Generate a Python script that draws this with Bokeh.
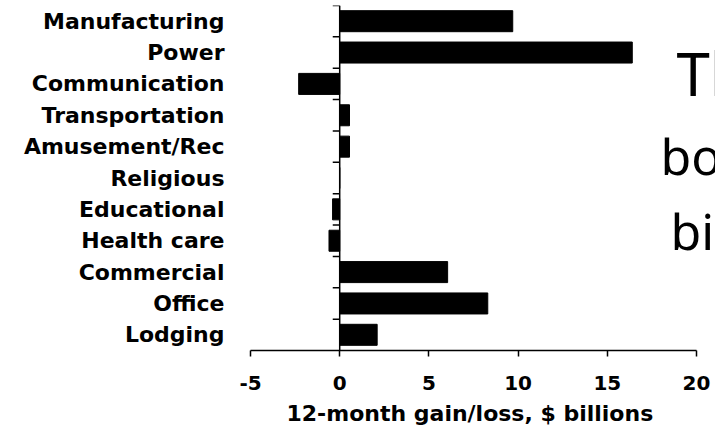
from bokeh.plotting import figure
from bokeh.models import Range1d, FixedTicker, Span, Label, Title
from bokeh.embed import file_html
from bokeh.resources import INLINE

categories = ["Manufacturing", "Power", "Communication", "Transportation",
              "Amusement/Rec", "Religious", "Educational", "Health care",
              "Commercial", "Office", "Lodging"]
values = [9.7, 16.4, -2.3, 0.55, 0.55, 0.0, -0.4, -0.6, 6.05, 8.3, 2.1]
x_ticks = [-5, 0, 5, 10, 15, 20]
x_tick_labels = ["-5", "0", "5", "10", "15", "20"]
x_title = "12-month gain/loss, $ billions"
note_words = ["Th", "bo", "bi"]

n = len(categories)
ypos = [n - 1 - i + 0.5 for i in range(n)]

FONT = "DejaVu Sans"
px_per_unit = 446 / 25.0

p = figure(width=715, height=434, output_backend="svg", toolbar_location=None,
           x_range=Range1d(-5, 20 + 19 / px_per_unit), y_range=Range1d(0, n),
           min_border_left=250, min_border_right=0, min_border_top=5,
           min_border_bottom=84, outline_line_color=None,
           background_fill_color="white", border_fill_color="white")
p.xgrid.visible = False
p.ygrid.visible = False

p.hbar(y=ypos, right=values, left=0, height=0.67, color="black")

xa = p.xaxis[0]
xa.bounds = (x_ticks[0], x_ticks[-1])
xa.ticker = FixedTicker(ticks=x_ticks)
xa.major_label_overrides = {t: s for t, s in zip(x_ticks, x_tick_labels)}
xa.axis_line_width = 1.5
xa.axis_line_color = "black"
xa.major_tick_out = 6
xa.major_tick_in = 0
xa.major_tick_line_width = 1.5
xa.minor_tick_line_color = None
xa.major_label_text_font = FONT
xa.major_label_text_font_style = "bold"
xa.major_label_text_font_size = "20px"
xa.major_label_text_color = "black"
xa.major_label_standoff = 19

# axis title, centred under the -5..20 span (not the wider frame)
p.add_layout(Title(text=x_title, align="left", offset=36, standoff=12,
                   text_font=FONT, text_font_style="bold", text_font_size="22px",
                   text_color="black"), "below")

ya = p.yaxis[0]
ya.ticker = FixedTicker(ticks=ypos)
ya.major_label_overrides = {y: c for y, c in zip(ypos, categories)}
ya.axis_line_color = None
ya.major_tick_line_color = None
ya.minor_tick_line_color = None
ya.major_label_standoff = 20
ya.major_label_text_font = FONT
ya.major_label_text_font_style = "bold"
ya.major_label_text_font_size = "22px"
ya.major_label_text_color = "black"

p.add_layout(Span(location=0, dimension="height", line_color="black", line_width=1.5))
bounds = list(range(1, n + 1))
p.segment(x0=[-0.39] * len(bounds), x1=[0] * len(bounds), y0=bounds, y1=bounds,
          line_color="black", line_width=1.5)

sizes = ["60px", "50px", "50px"]
xs = [676, 660, 670]
ys = [72, 155, 230]
for w, s, xx, yy in zip(note_words, sizes, xs, ys):
    p.add_layout(Label(x=xx, y=yy, x_units="canvas", y_units="canvas", text=w,
                       text_font="Noto Sans", text_font_size=s, text_color="black",
                       text_baseline="alphabetic"))

open("out.html", "w").write(file_html(p, INLINE))
